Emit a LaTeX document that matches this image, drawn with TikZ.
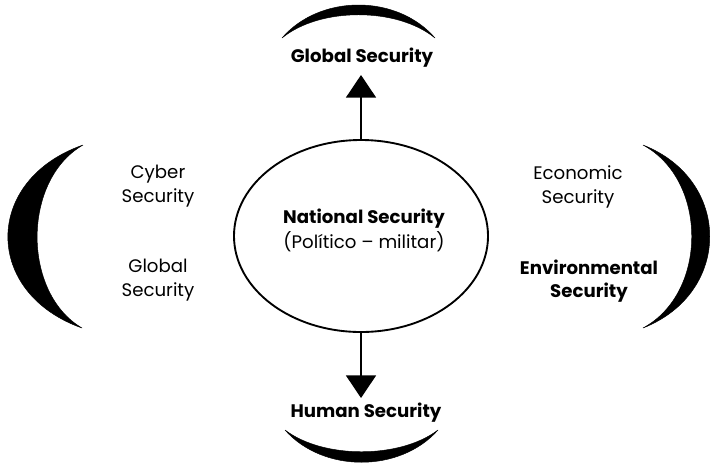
\documentclass[tikz,border=0pt]{standalone}
\usepackage{fontspec}
\setmainfont{Poppins}
\usepackage{tikz}
\usetikzlibrary{arrows.meta,shapes.geometric}
\tikzstyle{label} = [align=center, font=\fontsize{15.5}{20}\selectfont, inner sep=1pt]
\tikzstyle{boldlabel} = [label, font=\fontsize{15.5}{20}\selectfont\bfseries]
\tikzstyle{core} = [ellipse, draw, line width=1.6pt, minimum width=7.62cm, minimum height=5.76cm, inner sep=0pt]
\tikzstyle{moon} = [fill=black, draw=black, line width=0.4pt]
\tikzstyle{link} = [-{Triangle[width=0.9cm,length=0.68cm]}, line width=1.6pt]

\begin{document}
\begin{tikzpicture}[x=0.03cm,y=-0.03cm]
  \useasboundingbox (0,0) rectangle (712,465);
  \node[core] (national) at (361,236) {};
  \node[boldlabel] (national_t) at (364,219) {National Security};
  \node[label] (politico) at (364,242) {(Político – militar)};
  \node[boldlabel] (global) at (362,58) {Global Security};
  \node[boldlabel] (human) at (366,413) {Human Security};
  \node[label] (cyber) at (158,186) {Cyber\\Security};
  \node[label] (global_l) at (158,280) {Global\\Security};
  \node[label] (economic) at (578,187) {Economic\\Security};
  \node[boldlabel] (environ) at (589,281) {Environmental\\Security};
  \coordinate (up_tip) at (361,75);
  \coordinate (down_tip) at (361,398);

  \draw[link] (national.north) -- (up_tip);
  \draw[link] (national.south) -- (down_tip);

  % crescents
  \fill[moon] (83,145) .. controls (-17,180) and (-17,293) .. (82,328)
              .. controls (22,293) and (22,180) .. (83,145);
  \fill[moon] (643,145) .. controls (732,180) and (732,293) .. (643,328)
              .. controls (708,293) and (708,180) .. (643,145);
  \fill[moon] (282,38) .. controls (320,-6) and (397,-6) .. (435,38)
              .. controls (397,7) and (320,7) .. (282,38);
  \fill[moon] (285,430) .. controls (323,473) and (400,473) .. (438,430)
              .. controls (400,459) and (323,459) .. (285,430);
\end{tikzpicture}
\end{document}
